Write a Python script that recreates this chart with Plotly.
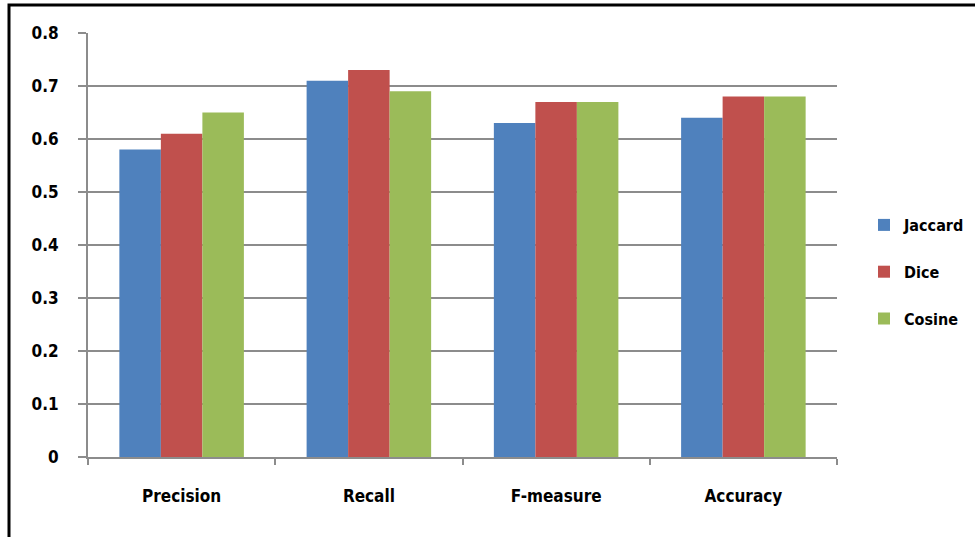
import plotly.graph_objects as go

categories = ["Precision", "Recall", "F-measure", "Accuracy"]
jaccard = [0.58, 0.71, 0.63, 0.64]
dice = [0.61, 0.73, 0.67, 0.68]
cosine = [0.65, 0.69, 0.67, 0.68]
y_ticks = [0, 0.1, 0.2, 0.3, 0.4, 0.5, 0.6, 0.7, 0.8]
y_tick_labels = ["0", "0.1", "0.2", "0.3", "0.4", "0.5", "0.6", "0.7", "0.8"]

W, H = 975, 537
L, R, T, B = 88, 138, 33, 80
pw, ph = W - L - R, H - T - B

def px_x(x):
    return (x - L) / pw

def px_y(y):
    return (H - B - y) / ph

FONT = "DejaVu Sans Condensed, DejaVu Sans, sans-serif"
tf = dict(family=FONT, size=17, color="black", weight="bold")
lf = dict(family=FONT, size=16, color="black", weight="bold")

fig = go.Figure()
series = [("Jaccard", jaccard, "#4F81BD"), ("Dice", dice, "#C0504D"), ("Cosine", cosine, "#9BBB59")]
for name, vals, col in series:
    fig.add_trace(go.Bar(x=categories, y=vals, name=name, marker=dict(color=col, line=dict(width=0)),
                         legendgroup=name))

fig.update_layout(
    width=W, height=H,
    margin=dict(l=L, r=R, t=T, b=B, autoexpand=False),
    paper_bgcolor="white", plot_bgcolor="white",
    barmode="group", bargap=0.335, bargroupgap=0,
    font=tf,
    showlegend=True,
    legend=dict(x=px_x(864), y=px_y(272), xanchor="left", yanchor="middle",
                font=lf, tracegroupgap=23, bgcolor="rgba(0,0,0,0)"),
    xaxis=dict(showgrid=False, showline=True, linecolor="#8c8c8c", linewidth=2,
               ticks="outside", tickson="boundaries", ticklen=6, tickcolor="#8c8c8c", tickwidth=2,
               tickfont=tf, ticklabelstandoff=23),
    yaxis=dict(range=[0, 0.8], tickvals=y_ticks, ticktext=y_tick_labels,
               showgrid=True, gridcolor="#8c8c8c", gridwidth=2,
               showline=True, linecolor="#8c8c8c", linewidth=2,
               ticks="outside", ticklen=8, tickcolor="#8c8c8c", tickwidth=2,
               tickfont=tf, ticklabelstandoff=16,
               zeroline=False),
)

# outer frame (left and top edges visible)
fig.add_shape(type="path", xref="paper", yref="paper",
              path=f"M {px_x(9)} {px_y(560)} L {px_x(9)} {px_y(5)} L {px_x(1000)} {px_y(5)}",
              line=dict(color="black", width=3))

fig.write_html("out.html")
